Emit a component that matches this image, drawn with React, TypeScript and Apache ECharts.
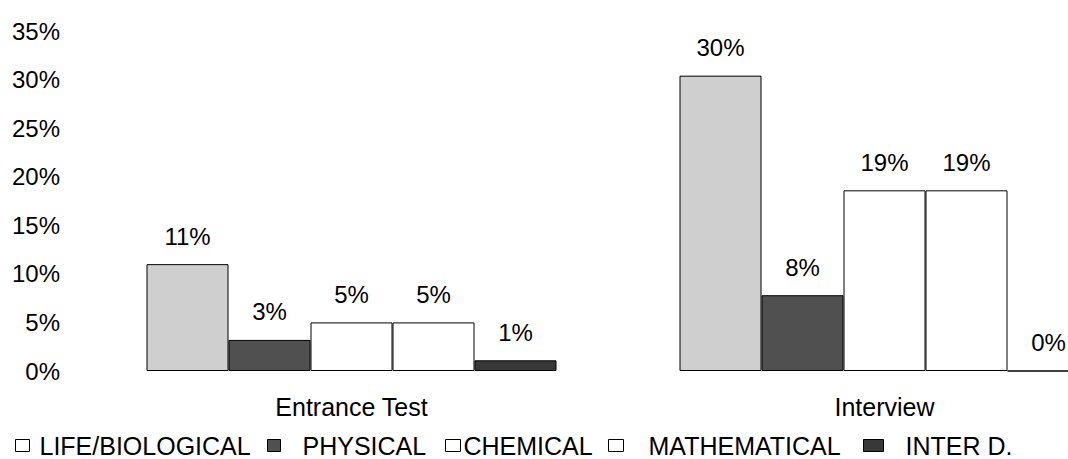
import React, { useEffect, useRef } from "react";
import * as echarts from "echarts";

const categories = ["Entrance Test", "Interview"];
const seriesNames = ["LIFE/BIOLOGICAL", "PHYSICAL", "CHEMICAL", "MATHEMATICAL", "INTER D."];
const lifeValues = [11, 30.4];
const physicalValues = [3.2, 7.8];
const chemicalValues = [5, 18.6];
const mathematicalValues = [5, 18.6];
const interValues = [1.1, 0];
const yTicks = [0, 5, 10, 15, 20, 25, 30, 35];

const colors = ["#cfcfcf", "#505050", "#ffffff", "#ffffff", "#383838"];
const legendColors = ["#ffffff", "#505050", "#ffffff", "#ffffff", "#383838"];
const legendLeft = [15, 267, 445, 608, 863];
const legendSymbolWidth = [14, 13, 15, 15, 20];
const legendTextGap = [5, 17, -2, 20, 17];
const FONT = "'Liberation Sans', Arial, sans-serif";

export default function App() {
  const ref = useRef<HTMLDivElement>(null);
  useEffect(() => {
    if (!ref.current) return;
    const chart = echarts.init(ref.current, null, { renderer: "svg" });
    const all = [lifeValues, physicalValues, chemicalValues, mathematicalValues, interValues];
    chart.setOption({
      animation: false,
      backgroundColor: "#ffffff",
      textStyle: { fontFamily: FONT },
      grid: { left: 85, top: 31, width: 1066, height: 340, outerBoundsMode: "none", containLabel: false },
      legend: seriesNames.map((name, i) => ({
        left: legendLeft[i],
        top: 433,
        itemWidth: legendSymbolWidth[i],
        itemHeight: 12,
        icon: "rect",
        selectedMode: false,
        padding: 0,
        data: [{ name, itemStyle: { color: legendColors[i], borderColor: "#000", borderWidth: 1 } }],
        textStyle: {
          fontSize: 25,
          color: "#000",
          fontFamily: FONT,
          padding: [0, 0, 0, legendTextGap[i]],
        },
      })),
      xAxis: {
        type: "category",
        data: categories,
        axisLine: { show: false },
        axisTick: { show: false },
        axisLabel: { fontSize: 25, color: "#000", margin: 23 },
      },
      yAxis: {
        type: "value",
        min: yTicks[0],
        max: yTicks[yTicks.length - 1],
        interval: 5,
        splitLine: { show: false },
        axisLine: { show: false },
        axisTick: { show: false },
        axisLabel: { fontSize: 24, color: "#000", margin: 25, formatter: "{value}%" },
      },
      series: seriesNames.map((name, i) => ({
        name,
        type: "bar",
        data: all[i],
        barWidth: 82,
        barGap: "0%",
        itemStyle: { color: colors[i], borderColor: "#000", borderWidth: 1 },
        label: {
          show: true,
          position: "top",
          distance: 16,
          fontSize: 24,
          color: "#000",
          formatter: (p: any) => Math.round(p.value) + "%",
        },
      })),
    });
    return () => chart.dispose();
  }, []);
  return (
    <div
      ref={ref}
      style={{ position: "fixed", left: 0, top: 0, width: 1068, height: 459, background: "#fff" }}
    />
  );
}
